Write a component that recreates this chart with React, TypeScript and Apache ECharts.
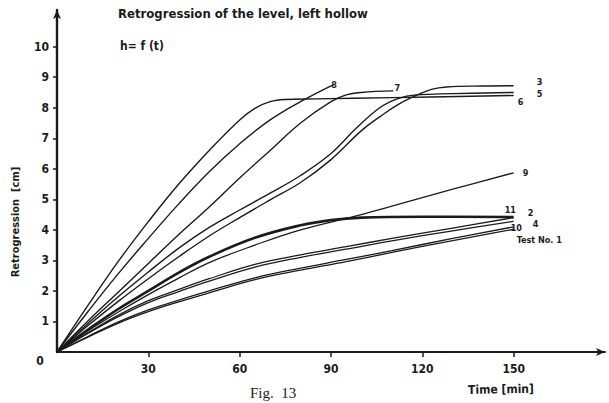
import React, { useEffect, useRef } from 'react';
import * as echarts from 'echarts';

const xTickValues = [30, 60, 90, 120, 150];
const yTickValues = [1, 2, 3, 4, 5, 6, 7, 8, 9, 10];

const test6 = [[0, 0], [10, 1.5], [20, 2.95], [30, 4.27], [40, 5.5], [50, 6.6], [60, 7.6], [65, 7.98], [70, 8.2], [75, 8.27], [85, 8.29], [110, 8.33], [150, 8.4]];
const test8 = [[0, 0], [10, 1.3], [20, 2.55], [30, 3.72], [40, 4.85], [50, 5.9], [60, 6.82], [70, 7.6], [80, 8.2], [90.7, 8.75]];
const test7 = [[0, 0], [10, 1.0], [20, 1.95], [30, 2.9], [40, 3.85], [50, 4.75], [60, 5.7], [70, 6.6], [80, 7.5], [90, 8.2], [95, 8.42], [100, 8.5], [110.5, 8.55]];
const test5 = [[0, 0], [10, 0.92], [20, 1.8], [30, 2.62], [40, 3.4], [50, 4.08], [60, 4.65], [70, 5.2], [80, 5.78], [90, 6.5], [98, 7.3], [106, 8.0], [112, 8.3], [118, 8.42], [130, 8.46], [150, 8.5]];
const test3 = [[0, 0], [10, 0.85], [20, 1.65], [30, 2.4], [40, 3.12], [50, 3.8], [60, 4.4], [70, 4.98], [80, 5.55], [90, 6.3], [100, 7.25], [106, 7.7], [112, 8.1], [118, 8.4], [123, 8.6], [128, 8.68], [140, 8.71], [150, 8.72]];
const test9 = [[0, 0], [10, 0.68], [20, 1.3], [30, 1.88], [40, 2.42], [50, 2.93], [65, 3.5], [80, 4.0], [98, 4.45], [110, 4.78], [130, 5.33], [150, 5.87]];
const test11 = [[0, 0], [10, 0.72], [20, 1.4], [30, 2.0], [40, 2.6], [50, 3.12], [65, 3.74], [80, 4.15], [90, 4.32], [100, 4.4], [120, 4.43], [150, 4.42]];
const test2 = [[0, 0], [10, 0.62], [20, 1.2], [30, 1.68], [40, 2.05], [50, 2.4], [65, 2.87], [80, 3.18], [95, 3.45], [110, 3.72], [130, 4.06], [150, 4.4]];
const test4 = [[0, 0], [10, 0.6], [20, 1.15], [30, 1.62], [40, 1.98], [50, 2.32], [65, 2.78], [80, 3.1], [95, 3.37], [110, 3.64], [130, 3.97], [150, 4.28]];
const test10 = [[0, 0], [10, 0.5], [20, 0.98], [30, 1.38], [40, 1.7], [50, 2.0], [65, 2.43], [80, 2.75], [95, 3.03], [110, 3.32], [130, 3.72], [150, 4.1]];
const test1 = [[0, 0], [10, 0.48], [20, 0.94], [30, 1.32], [40, 1.64], [50, 1.94], [65, 2.37], [80, 2.68], [95, 2.96], [110, 3.26], [130, 3.65], [150, 4.02]];

const FONT = "'DejaVu Sans Condensed', 'Liberation Sans Narrow', 'DejaVu Sans', sans-serif";
const INK = '#1b1b1b';

const seriesDefs = [
  { name: '6', data: test6, width: 1.4, offset: [4, 6] },
  { name: '8', data: test8, width: 1.4, offset: [-2, 0] },
  { name: '7', data: test7, width: 1.4, offset: [1, -3] },
  { name: '5', data: test5, width: 1.4, offset: [23, 2] },
  { name: '3', data: test3, width: 1.4, offset: [23, -4] },
  { name: '9', data: test9, width: 1.3, offset: [9, 0] },
  { name: '11', data: test11, width: 2.6, offset: [-9, -7] },
  { name: '2', data: test2, width: 1.3, offset: [14, -5] },
  { name: '4', data: test4, width: 1.3, offset: [19, 3] },
  { name: '10', data: test10, width: 1.3, offset: [-3, 1] },
  { name: 'Test No. 1', data: test1, width: 1.3, offset: [3, 11] },
];

export default function App() {
  const ref = useRef<HTMLDivElement>(null);
  useEffect(() => {
    if (!ref.current) return;
    const chart = echarts.init(ref.current, null, { renderer: 'svg' });
    chart.setOption({
      animation: false,
      backgroundColor: '#ffffff',
      grid: { left: 57, right: 4, top: 10, bottom: 51, containLabel: false },
      xAxis: {
        type: 'value',
        min: 0,
        max: 180,
        interval: 30,
        axisLine: { show: true, symbol: ['none', 'arrow'], symbolSize: [6, 9], lineStyle: { color: INK, width: 2 } },
        axisTick: { show: true, customValues: xTickValues, length: 5, lineStyle: { color: INK, width: 1.5 } },
        axisLabel: { customValues: xTickValues, color: INK, fontFamily: FONT, fontWeight: 'bold', fontSize: 12, margin: 11 },
        splitLine: { show: false },
      },
      yAxis: {
        type: 'value',
        min: 0,
        max: 11.2,
        interval: 1,
        axisLine: { show: true, symbol: ['none', 'arrow'], symbolSize: [6, 9], lineStyle: { color: INK, width: 2.4 } },
        axisTick: { show: true, customValues: yTickValues, length: 4, lineStyle: { color: INK, width: 1.5 } },
        axisLabel: { customValues: yTickValues, color: INK, fontFamily: FONT, fontWeight: 'bold', fontSize: 12, margin: 8 },
        splitLine: { show: false },
      },
      graphic: [
        { type: 'text', left: 118, top: 7, style: { text: 'Retrogression of the level, left hollow', fill: INK, font: `bold 13px ${FONT}` } },
        { type: 'text', left: 120, top: 40, style: { text: 'h= f (t)', fill: INK, font: `bold 12px ${FONT}` } },
        { type: 'text', x: 15, y: 222, rotation: Math.PI / 2, style: { text: 'Retrogression  [cm]', fill: INK, font: `bold 11px ${FONT}`, align: 'center', verticalAlign: 'middle' } },
        { type: 'text', x: 40, y: 361, style: { text: '0', fill: INK, font: `bold 12px ${FONT}`, align: 'center', verticalAlign: 'middle' } },
        { type: 'text', x: 468, y: 390, rotation: 0.02, style: { text: 'Time [min]', fill: INK, font: `bold 12px ${FONT}`, verticalAlign: 'middle' } },
        { type: 'text', x: 250, y: 385, style: { text: 'Fig.  13', fill: INK, font: `15px 'Liberation Serif', serif`, verticalAlign: 'top' } },
      ],
      series: seriesDefs.map((s) => ({
        name: s.name,
        type: 'line',
        data: s.data,
        smooth: 0.4,
        showSymbol: false,
        symbol: 'none',
        lineStyle: { color: INK, width: s.width },
        endLabel: {
          show: true,
          formatter: s.name,
          distance: 0,
          offset: s.offset,
          color: INK,
          fontFamily: FONT,
          fontWeight: 'bold',
          fontSize: 9,
        },
        emphasis: { disabled: true },
        silent: true,
      })),
    });
    return () => chart.dispose();
  }, []);
  return <div ref={ref} style={{ position: 'fixed', left: 0, top: 0, width: 609, height: 403, background: '#fff' }} />;
}
